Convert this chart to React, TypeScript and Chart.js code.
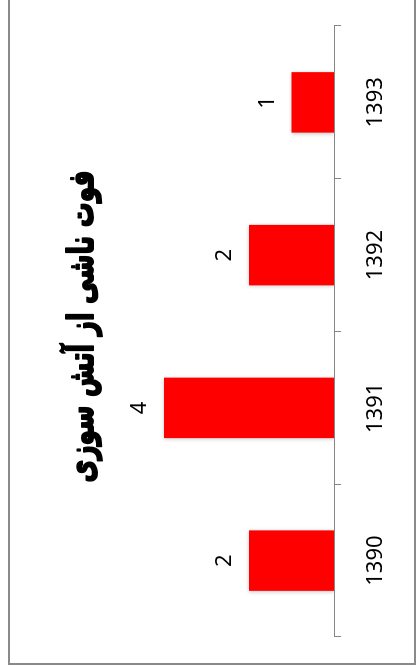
import React, { useEffect, useRef } from "react";
import { Chart, registerables } from "chart.js";

Chart.register(...registerables);

const categories = ["1390", "1391", "1392", "1393"];
const deaths = [2, 4, 2, 1];
const titleText = "فوت ناشی از آتش سوزی";
const valueMin = 0;
const valueMax = 5;

const FRAME_W = 676;
const FRAME_H = 408;
const BORDER = 2;
const CW = FRAME_W - 2 * BORDER;
const CH = FRAME_H - 2 * BORDER;
const AXIS_Y = 324;
const PLOT_TOP = 111.5;
const TITLE_LEN = 312;

export default function App() {
  const ref = useRef<HTMLCanvasElement>(null);

  useEffect(() => {
    document.body.style.overflow = "hidden";
    const labelPlugin = {
      id: "valueLabels",
      beforeDatasetDraw(chart: any) {
        const ctx = chart.ctx;
        ctx.save();
        ctx.shadowColor = "rgba(0,0,0,0.22)";
        ctx.shadowBlur = 4;
        ctx.shadowOffsetX = -1;
        ctx.shadowOffsetY = 0;
      },
      afterDatasetDraw(chart: any) {
        chart.ctx.restore();
      },
      afterDatasetsDraw(chart: any) {
        const ctx = chart.ctx;
        const meta = chart.getDatasetMeta(0);
        ctx.save();
        ctx.fillStyle = "#000";
        ctx.font = "22px 'Noto Sans'";
        ctx.textAlign = "center";
        ctx.textBaseline = "alphabetic";
        meta.data.forEach((bar: any, i: number) => {
          ctx.fillText(String(deaths[i]), bar.x, bar.y - 18);
        });
        ctx.restore();
      },
      afterDraw(chart: any) {
        const ctx = chart.ctx;
        ctx.save();
        ctx.fillStyle = "#000";
        ctx.strokeStyle = "#000";
        ctx.lineWidth = 1.8;
        ctx.lineJoin = "round";
        ctx.font = "bold 35px 'DejaVu Sans Condensed', 'DejaVu Sans'";
        ctx.textAlign = "center";
        ctx.textBaseline = "middle";
        ctx.direction = "rtl";
        const w = ctx.measureText(titleText).width;
        const sx = Math.min(1, TITLE_LEN / w);
        ctx.translate(CW / 2 + 0.5, 74);
        ctx.scale(sx, 1);
        ctx.fillText(titleText, 0, 0);
        ctx.strokeText(titleText, 0, 0);
        ctx.restore();
      },
    };

    const chart = new Chart(ref.current!, {
      type: "bar",
      data: {
        labels: categories,
        datasets: [
          {
            data: deaths,
            backgroundColor: "#FF0000",
            borderWidth: 0,
            categoryPercentage: 1,
            barPercentage: 0.396,
          },
        ],
      },
      options: {
        responsive: false,
        animation: false,
        devicePixelRatio: 1,
        layout: { padding: { left: 26, right: 35, top: PLOT_TOP, bottom: 0 } },
        plugins: {
          legend: { display: false },
          tooltip: { enabled: false },
          title: { display: false },
        },
        scales: {
          x: {
            offset: true,
            grid: {
              offset: true,
              drawOnChartArea: false,
              drawTicks: true,
              tickLength: 7,
              color: "#868686",
              lineWidth: 1,
            },
            border: { display: true, color: "#868686", width: 1 },
            ticks: {
              color: "#000",
              font: { family: "Noto Sans", size: 22 },
              padding: 22,
              maxRotation: 0,
            },
            afterFit: (s: any) => {
              s.height = CH - AXIS_Y;
            },
          },
          y: { display: false, min: valueMin, max: valueMax },
        },
      } as any,
      plugins: [labelPlugin],
    });
    return () => chart.destroy();
  }, []);

  return (
    <div
      style={{
        position: "absolute",
        left: 0,
        top: 0,
        width: FRAME_W,
        height: FRAME_H,
        boxSizing: "border-box",
        border: `${BORDER}px solid #8a8a8a`,
        background: "#fff",
        transformOrigin: "0 0",
        transform: "translate(8px, 665px) rotate(-90deg)",
      }}
    >
      <canvas ref={ref} width={CW} height={CH} style={{ display: "block" }} />
    </div>
  );
}
